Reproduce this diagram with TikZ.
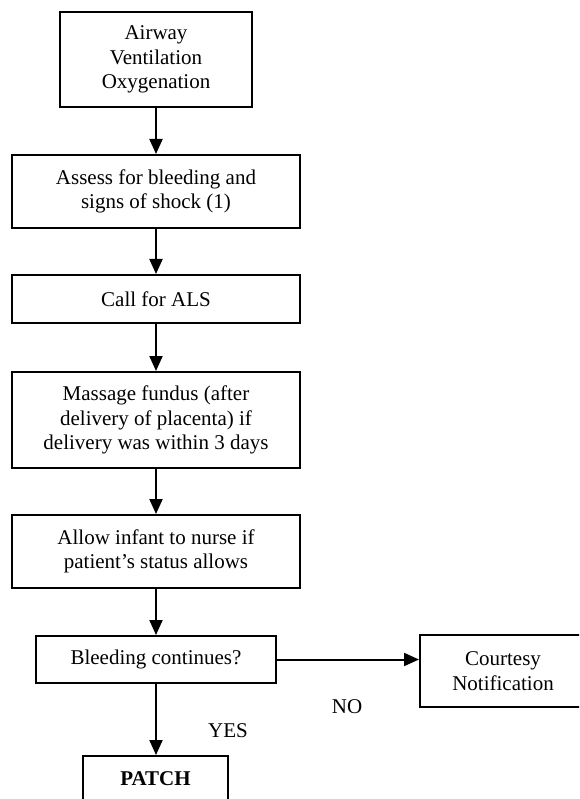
\documentclass[tikz,border=0pt]{standalone}
\usepackage{fontspec}
\setmainfont{Liberation Serif}
\usetikzlibrary{arrows.meta}
\begin{document}
\begin{tikzpicture}[x=1pt,y=-1pt,
  every node/.style={font=\fontsize{21}{24.5}\selectfont},
  stepbox/.style={draw, line width=2pt, align=center, inner sep=0pt, minimum width=288pt},
  flow/.style={line width=2pt, -{Triangle[length=15pt,width=13pt]}},
  tag/.style={inner sep=0pt}]
\useasboundingbox (0,0) rectangle (579,799);
\clip (0,0) rectangle (579,799);

\node[stepbox, minimum width=192pt, minimum height=95pt] (avo) at (156,59.5)
  {Airway\\Ventilation\\Oxygenation};
\node[stepbox, minimum height=73pt] (assess) at (156,191.5)
  {Assess for bleeding and\\signs of shock (1)};
\node[stepbox, minimum height=48pt] (als) at (156,299)
  {Call for ALS};
\node[stepbox, minimum height=96pt] (massage) at (156,420)
  {Massage fundus (after\\delivery of placenta) if\\delivery was within 3 days};
\node[stepbox, minimum height=73pt] (nurse) at (156,551.5)
  {Allow infant to nurse if\\patient's status allows};
\node[stepbox, minimum width=240pt, minimum height=47pt] (bleed) at (156,659.5)
  {Bleeding continues?};
\node[stepbox, minimum width=166pt, minimum height=72pt] (courtesy) at (503,671)
  {Courtesy\\Notification};
\node[stepbox, minimum width=145pt, minimum height=46pt, font=\fontsize{21}{24.5}\selectfont\bfseries] (patch) at (155.5,779)
  {PATCH};

\draw[flow] (avo) -- (assess);
\draw[flow] (assess) -- (als);
\draw[flow] (als) -- (massage);
\draw[flow] (massage) -- (nurse);
\draw[flow] (nurse) -- (bleed);
\draw[flow] (bleed.east) -- (courtesy.west |- bleed.east);
\draw[flow] (bleed.south) -- (bleed.south |- patch.north);

\node[tag] (no) at (347,707) {NO};
\node[tag] (yes) at (228,731) {YES};
\end{tikzpicture}
\end{document}
